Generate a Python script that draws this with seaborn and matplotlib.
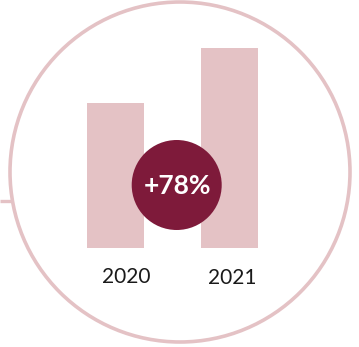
import matplotlib
matplotlib.use("Agg")
import matplotlib.pyplot as plt
import matplotlib.transforms as mtransforms
from matplotlib.patches import Circle
import seaborn as sns
import pandas as pd

# Data
years = ["2020", "2021"]
values = [0.726, 1.0]
growth_label = "+78%"

PINK = "#E4C2C5"
MAROON = "#7E1A3A"

sns.set_theme(style="white")
plt.rcParams["font.family"] = ["Lato", "DejaVu Sans"]

W, H = 359, 347
fig = plt.figure(figsize=(W / 100, H / 100), dpi=100)

# Background layer in pixel coordinates: outer ring and connector line
bg = fig.add_axes([0, 0, 1, 1])
bg.set_xlim(0, W)
bg.set_ylim(H, 0)
bg.axis("off")
bg.add_patch(Circle((180, 172), 170, fill=False, edgecolor=PINK, linewidth=2.6))
bg.plot([0, 11], [200.5, 200.5], color=PINK, linewidth=2.4, solid_capstyle="butt")

# Bar chart
df = pd.DataFrame({"year": years, "value": values})
ax = fig.add_axes([58.35 / W, 99.5 / H, 228.6 / W, 199.5 / H])
sns.barplot(data=df, x="year", y="value", color=PINK, saturation=1, width=0.5, ax=ax)
for p in ax.patches:
    p.set_edgecolor("none")
ax.set_xlim(-0.5, 1.5)
ax.set_ylim(0, 1)
ax.patch.set_alpha(0)
for s in ax.spines.values():
    s.set_visible(False)
ax.set_xlabel("")
ax.set_ylabel("")
ax.set_yticks([])
ax.tick_params(axis="x", length=0, pad=14, labelsize=15, labelcolor="#1a1a1a")
shifts = [(11, 0), (2, -1.5)]
for lbl, (dx, dy) in zip(ax.get_xticklabels(), shifts):
    lbl.set_transform(lbl.get_transform() + mtransforms.ScaledTranslation(dx / 100, dy / 100, fig.dpi_scale_trans))

# Growth badge on top
fg = fig.add_axes([0, 0, 1, 1])
fg.set_xlim(0, W)
fg.set_ylim(H, 0)
fg.axis("off")
fg.patch.set_alpha(0)
fg.add_patch(Circle((176.7, 185), 45, facecolor=MAROON, edgecolor="none"))
fg.text(177.5, 186, growth_label, color="white", fontsize=19, fontweight="bold",
        ha="center", va="center")

fig.savefig("out.png", dpi=100)
